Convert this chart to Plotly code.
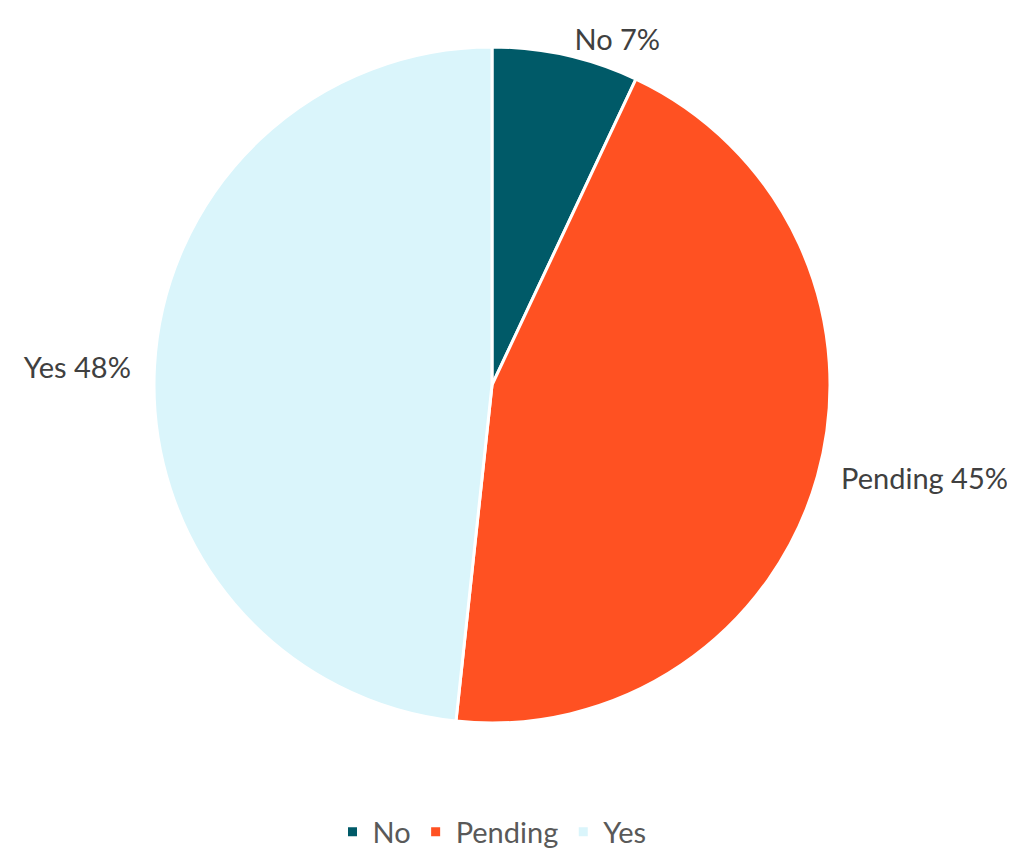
import plotly.graph_objects as go

labels = ["No", "Pending", "Yes"]
values = [7.0, 44.7, 48.3]
colors = ["#005A68", "#FF5122", "#DAF5FB"]

NB = "\u00a0"
templates = [
    "%{label} %{percent:.0%}",
    NB * 2 + "%{label} %{percent:.0%}",
    "%{label} %{percent:.0%}" + NB * 2,
]

fig = go.Figure(go.Pie(
    labels=labels,
    values=values,
    sort=False,
    direction="clockwise",
    rotation=0,
    marker=dict(colors=colors, line=dict(color="white", width=3)),
    textposition="outside",
    texttemplate=templates,
    textfont=dict(family="Lato", size=29, color="#404040"),
    hoverinfo="label+percent",
    domain=dict(x=[0, 1], y=[0, 1]),
))

fig.update_layout(
    width=1015, height=850,
    margin=dict(l=0, r=51, t=39, b=135),
    paper_bgcolor="white",
    plot_bgcolor="white",
    showlegend=True,
    legend=dict(
        orientation="h",
        x=0.5, xanchor="center",
        y=-0.199, yanchor="bottom",
        font=dict(family="Lato", size=29, color="#595959"),
        traceorder="normal",
    ),
)

fig.write_html("out.html")
